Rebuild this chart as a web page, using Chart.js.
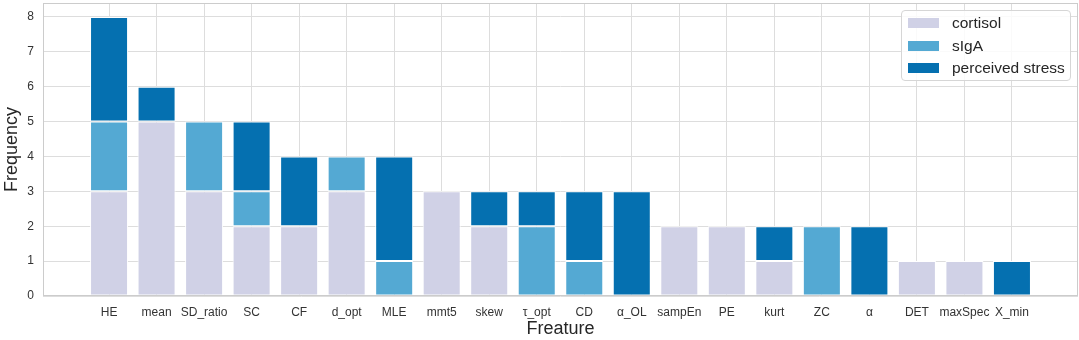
<!DOCTYPE html>
<html>
<head>
<meta charset="utf-8">
<script src="https://cdn.jsdelivr.net/npm/chart.js@4"></script>
<style>
  html, body { margin: 0; padding: 0; background: #fff; }
  #wrap { position: relative; width: 1079px; height: 340px; }
  #legend {
    position: absolute; left: 901px; top: 10px; width: 168px; height: 69px;
    border: 1px solid #d6d6d6; border-radius: 4px; background: rgba(255,255,255,0.85);
    font-family: "Liberation Sans", Arial, sans-serif; font-size: 15.5px; color: #262626;
  }
  .item { position: absolute; left: 6px; height: 22px; display: flex; align-items: center; }
  .patch { width: 31px; height: 10px; margin-right: 13px; }
</style>
</head>
<body>
<div id="wrap">
  <canvas id="c" width="1079" height="340"></canvas>
  <div id="legend"></div>
</div>
<script>
const categories = ["HE","mean","SD_ratio","SC","CF","d_opt","MLE","mmt5","skew","τ_opt","CD","α_OL","sampEn","PE","kurt","ZC","α","DET","maxSpec","X_min"];
const cortisol       = [3,5,3,2,2,3,0,3,2,0,0,0,2,2,1,0,0,1,1,0];
const sIgA           = [2,0,2,1,0,1,1,0,0,2,1,0,0,0,0,2,0,0,0,0];
const perceivedStress= [3,1,0,2,2,0,3,0,1,1,2,3,0,0,1,0,2,0,0,1];
const seriesNames = ["cortisol","sIgA","perceived stress"];
const yTicks = [0,1,2,3,4,5,6,7,8];

const colors = ["#d0d1e6","#54a9d3","#0570b0"];
const seriesData = [cortisol, sIgA, perceivedStress];

const datasets = seriesData.map((arr, si) => ({
  label: seriesNames[si],
  data: arr.map((v, i) => ({ x: i, y: v === 0 ? null : v })),
  backgroundColor: colors[si],
  borderColor: "#ffffff",
  borderWidth: 1,
  borderSkipped: false,
  categoryPercentage: 1,
  barPercentage: 0.8
}));

// HTML legend
const leg = document.getElementById("legend");
seriesNames.forEach((n, i) => {
  const d = document.createElement("div");
  d.className = "item";
  d.style.top = (1 + i * 22.5) + "px";
  d.innerHTML = '<span class="patch" style="background:' + colors[i] + '"></span><span></span>';
  d.lastChild.textContent = n;
  leg.appendChild(d);
});

const boxPlugin = {
  id: "box",
  afterDraw(chart) {
    const { ctx, chartArea: a } = chart;
    ctx.save();
    ctx.strokeStyle = "#cccccc";
    ctx.lineWidth = 1;
    ctx.strokeRect(a.left + 0.5, a.top + 0.5, a.right - a.left - 1, a.bottom - a.top - 1);
    ctx.restore();
  }
};

const font = "'Liberation Sans', Arial, sans-serif";
new Chart(document.getElementById("c"), {
  type: "bar",
  data: { datasets },
  plugins: [boxPlugin],
  options: {
    responsive: false,
    animation: false,
    layout: { padding: { left: 0, right: 1, top: 3, bottom: 0 } },
    plugins: { legend: { display: false }, tooltip: { enabled: false } },
    scales: {
      x: {
        type: "linear",
        stacked: true,
        offset: false,
        min: -1.39,
        max: categories.length - 1 + 1.39,
        afterBuildTicks(scale) { scale.ticks = categories.map((_, i) => ({ value: i })); },
        afterFit(scale) { scale.height = 44; scale.paddingLeft = 0; scale.paddingRight = 0; },
        grid: { color: "#dddddd", lineWidth: 1, drawTicks: false, offset: false },
        border: { display: false },
        ticks: {
          autoSkip: false, maxRotation: 0, padding: 9,
          color: "#333333", font: { family: font, size: 12 },
          callback: (v) => categories[v] ?? ""
        },
        title: { display: true, text: "Freature", color: "#262626",
                 font: { family: font, size: 18 }, padding: { top: 0, bottom: 0 } }
      },
      y: {
        stacked: true,
        min: 0,
        max: 8.4,
        afterBuildTicks(scale) { scale.ticks = yTicks.map(v => ({ value: v })); },
        afterFit(scale) { scale.width = 43; scale.paddingTop = 0; scale.paddingBottom = 0; },
        grid: { color: "#dddddd", lineWidth: 1, drawTicks: false },
        border: { display: false },
        ticks: { padding: 9, color: "#333333", font: { family: font, size: 12 } },
        title: { display: true, text: "Frequency", color: "#262626",
                 font: { family: font, size: 18 }, padding: { top: 1, bottom: 0 } }
      }
    }
  }
});
</script>
</body>
</html>
